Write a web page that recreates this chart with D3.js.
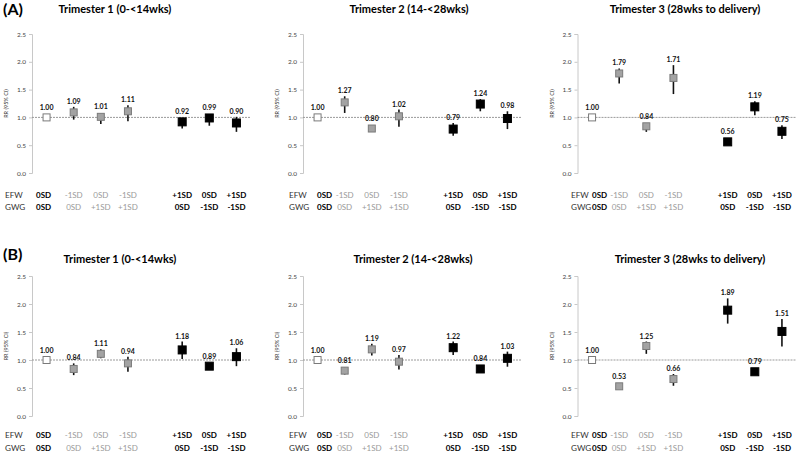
<!DOCTYPE html>
<html>
<head>
<meta charset="utf-8">
<script src="https://cdn.jsdelivr.net/npm/d3@7"></script>
<style>
  body { margin: 0; background: #fff; }
  svg { display: block; font-family: Lato, "Open Sans", sans-serif; }
</style>
</head>
<body>
<svg id="chart" width="800" height="456"></svg>
<script>
// categories (slot "gap" is the empty column between the groups)
const slots     = ["c0", "c1", "c2", "c3", "gap", "c4", "c5", "c6"];
const efwLabels = ["0SD", "-1SD", "0SD", "-1SD", "+1SD", "0SD", "+1SD"];
const gwgLabels = ["0SD", "0SD", "+1SD", "+1SD", "0SD", "-1SD", "-1SD"];
const markType  = ["ref", "grey", "grey", "grey", "black", "black", "black"];

const titles = ["Trimester 1 (0-<14wks)", "Trimester 2 (14-<28wks)", "Trimester 3 (28wks to delivery)"];
const yTicks = [0, 0.5, 1.0, 1.5, 2.0, 2.5];

// (A)
const rrA1 = [1.00, 1.09, 1.01, 1.11, 0.92, 0.99, 0.90];
const loA1 = [1.00, 0.96, 0.88, 0.93, 0.80, 0.85, 0.74];
const hiA1 = [1.00, 1.19, 1.06, 1.22, 0.99, 1.06, 1.01];

const rrA2 = [1.00, 1.27, 0.80, 1.02, 0.79, 1.24, 0.98];
const loA2 = [1.00, 1.08, 0.75, 0.83, 0.67, 1.11, 0.79];
const hiA2 = [1.00, 1.38, 0.85, 1.14, 0.90, 1.33, 1.11];

const rrA3 = [1.00, 1.79, 0.84, 1.71, 0.56, 1.19, 0.75];
const loA3 = [1.00, 1.61, 0.74, 1.42, 0.53, 1.04, 0.61];
const hiA3 = [1.00, 1.88, 0.89, 1.94, 0.58, 1.29, 0.86];

// (B)
const rrB1 = [1.00, 0.84, 1.11, 0.94, 1.18, 0.89, 1.06];
const loB1 = [1.00, 0.73, 1.03, 0.79, 1.02, 0.86, 0.89];
const hiB1 = [1.00, 0.94, 1.19, 1.06, 1.33, 0.93, 1.21];

const rrB2 = [1.00, 0.81, 1.19, 0.97, 1.22, 0.84, 1.03];
const loB2 = [1.00, 0.74, 1.08, 0.83, 1.09, 0.79, 0.88];
const hiB2 = [1.00, 0.86, 1.29, 1.09, 1.33, 0.88, 1.15];

const rrB3 = [1.00, 0.53, 1.25, 0.66, 1.89, 0.79, 1.51];
const loB3 = [1.00, 0.50, 1.11, 0.54, 1.65, 0.73, 1.24];
const hiB3 = [1.00, 0.57, 1.33, 0.75, 2.10, 0.83, 1.73];

// layout
const colX     = [33, 304, 578.5];     // start of x range per column
const rowLblX  = [5, 289, 571];        // "EFW"/"GWG" left edge
const firstDx  = [-3, 7, 7.5];         // nudge of the first label column
const rows = [
  { tag: "(A)", tagY: 15,  titleY: 12.5, titleX: [115, 409, 685], yTop: 34,  yBot: 173, efwY: 198, gwgY: 210,
    data: [[rrA1, loA1, hiA1], [rrA2, loA2, hiA2], [rrA3, loA3, hiA3]] },
  { tag: "(B)", tagY: 260, titleY: 262.5, titleX: [120, 413, 690], yTop: 276, yBot: 416, efwY: 438, gwgY: 451,
    data: [[rrB1, loB1, hiB1], [rrB2, loB2, hiB2], [rrB3, loB3, hiB3]] }
];

const svg = d3.select("#chart");

rows.forEach(row => {
  svg.append("text")
    .attr("x", 3).attr("y", row.tagY)
    .attr("font-size", 16).attr("font-weight", "bold")
    .text(row.tag);

  row.data.forEach((series, c) => {
    const [rr, lo, hi] = series;
    const x = d3.scaleBand().domain(slots).range([colX[c], colX[c] + 217]);
    const y = d3.scaleLinear().domain([0, 2.5]).range([row.yBot, row.yTop]);
    const cx = i => x(slots[i < 4 ? i : i + 1]) + x.bandwidth() / 2;
    const axisX = colX[c] - 1;
    const g = svg.append("g");

    // title
    g.append("text")
      .attr("x", row.titleX[c]).attr("y", row.titleY)
      .attr("text-anchor", "middle")
      .attr("font-size", 11).attr("font-weight", "bold")
      .text(titles[c]);

    // y axis
    const ax = g.append("g")
      .attr("transform", `translate(${axisX},0)`)
      .call(d3.axisLeft(y).tickValues(yTicks).tickFormat(d3.format(".1f")).tickSize(3).tickPadding(3));
    ax.select(".domain").attr("stroke", "#c8c8c8");
    ax.selectAll(".tick line").attr("stroke", "#c8c8c8");
    ax.selectAll(".tick text").attr("font-size", 6.5).attr("fill", "#444").attr("font-family", "Lato, sans-serif");

    g.append("text")
      .attr("transform", `translate(${axisX - 24},${(row.yTop + row.yBot) / 2}) rotate(-90)`)
      .attr("text-anchor", "middle").attr("font-size", 5.5).attr("fill", "#333")
      .text("RR (95% CI)");

    // reference line at RR = 1
    g.append("line")
      .attr("x1", axisX).attr("x2", colX[c] + 217)
      .attr("y1", y(1)).attr("y2", y(1))
      .attr("stroke", "#9a9a9a").attr("stroke-width", 1).attr("stroke-dasharray", "2,1");

    // whiskers
    g.selectAll(".ci").data(rr).join("line")
      .attr("x1", (d, i) => cx(i)).attr("x2", (d, i) => cx(i))
      .attr("y1", (d, i) => y(lo[i])).attr("y2", (d, i) => y(hi[i]))
      .attr("stroke", "#111").attr("stroke-width", 1.6);

    // squares
    g.selectAll(".pt").data(rr).join("rect")
      .attr("x", (d, i) => cx(i) - (markType[i] === "black" ? 4 : 3.5))
      .attr("y", (d, i) => y(d) - (markType[i] === "black" ? 4 : 3.5))
      .attr("width", (d, i) => markType[i] === "black" ? 8 : 7)
      .attr("height", (d, i) => markType[i] === "black" ? 8 : 7)
      .attr("fill", (d, i) => markType[i] === "ref" ? "#fff" : markType[i] === "grey" ? "#a3a3a3" : "#000")
      .attr("stroke", (d, i) => markType[i] === "black" ? "#000" : "#7a7a7a")
      .attr("stroke-width", 1);

    // value labels
    g.selectAll(".val").data(rr).join("text")
      .attr("x", (d, i) => cx(i))
      .attr("y", (d, i) => Math.min(y(d) - 7.5, y(hi[i]) - 3))
      .attr("text-anchor", "middle").attr("font-size", 7).attr("font-weight", "bold")
      .attr("fill", "#111")
      .text(d => d3.format(".2f")(d));

    // EFW / GWG rows
    [["EFW", efwLabels, row.efwY], ["GWG", gwgLabels, row.gwgY]].forEach(([name, labels, ly]) => {
      g.append("text")
        .attr("x", rowLblX[c]).attr("y", ly)
        .attr("font-size", 8.2).attr("fill", "#333")
        .text(name);
      g.selectAll(".lbl" + name).data(labels).join("text")
        .attr("x", (d, i) => cx(i) + (i === 0 ? firstDx[c] : 0)).attr("y", ly)
        .attr("text-anchor", "middle")
        .attr("font-size", 8)
        .attr("font-weight", (d, i) => markType[i] === "grey" ? "normal" : "bold")
        .attr("fill", (d, i) => markType[i] === "grey" ? "#9a9a9a" : "#000")
        .text(d => d);
    });
  });
});
</script>
</body>
</html>
